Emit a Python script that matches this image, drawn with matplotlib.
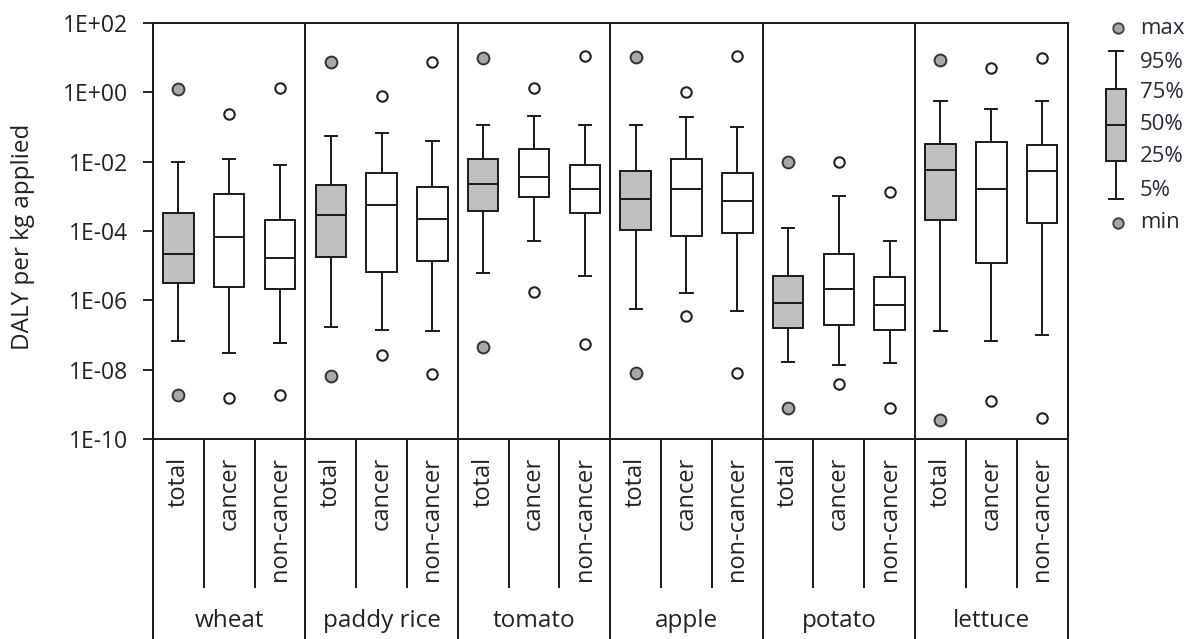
import matplotlib
matplotlib.use('Agg')
import matplotlib.pyplot as plt
import numpy as np
from matplotlib.transforms import blended_transform_factory
from matplotlib.ticker import FixedLocator, NullLocator

plt.rcParams['font.family'] = ['Open Sans', 'DejaVu Sans']

# ---------------- data ----------------
crops = ['wheat', 'paddy rice', 'tomato', 'apple', 'potato', 'lettuce']
effects = ['total', 'cancer', 'non-cancer']

# order: wheat(total, cancer, non-cancer), paddy rice(...), tomato, apple, potato, lettuce
p_max = [1.2, 0.23, 1.3,
         7.4, 0.76, 7.4,
         9.6, 1.3, 11.0,
         10.2, 1.0, 11.0,
         1.0e-2, 9.5e-3, 1.3e-3,
         8.4, 4.9, 9.6]
p95 = [1.0e-2, 1.15e-2, 7.9e-3,
       5.6e-2, 6.6e-2, 3.8e-2,
       0.11, 0.21, 0.11,
       0.11, 0.19, 9.8e-2,
       1.26e-4, 1.05e-3, 5.1e-5,
       0.55, 0.33, 0.55]
p75 = [3.3e-4, 1.2e-3, 2.1e-4,
       2.1e-3, 4.6e-3, 1.8e-3,
       1.15e-2, 2.3e-2, 7.9e-3,
       5.2e-3, 1.15e-2, 4.7e-3,
       5.2e-6, 2.2e-5, 4.6e-6,
       3.3e-2, 3.7e-2, 2.95e-2]
p50 = [2.2e-5, 6.5e-5, 1.7e-5,
       2.9e-4, 5.6e-4, 2.2e-4,
       2.2e-3, 3.5e-3, 1.6e-3,
       8.3e-4, 1.6e-3, 7.2e-4,
       8.3e-7, 2.1e-6, 7.2e-7,
       5.9e-3, 1.6e-3, 5.4e-3]
p25 = [3.1e-6, 2.4e-6, 2.1e-6,
       1.8e-5, 6.8e-6, 1.35e-5,
       3.7e-4, 9.3e-4, 3.3e-4,
       1.1e-4, 7.4e-5, 8.7e-5,
       1.6e-7, 1.95e-7, 1.45e-7,
       2.1e-4, 1.2e-5, 1.7e-4]
p5 = [6.6e-8, 3.0e-8, 5.9e-8,
      1.7e-7, 1.45e-7, 1.3e-7,
      6.0e-6, 5.1e-5, 5.2e-6,
      5.5e-7, 1.6e-6, 4.8e-7,
      1.7e-8, 1.35e-8, 1.55e-8,
      1.3e-7, 6.6e-8, 9.8e-8]
p_min = [1.9e-9, 1.5e-9, 1.9e-9,
         6.8e-9, 2.75e-8, 7.4e-9,
         4.7e-8, 1.7e-6, 5.4e-8,
         8.3e-9, 3.5e-7, 8.3e-9,
         7.8e-10, 3.8e-9, 7.8e-10,
         3.7e-10, 1.3e-9, 4.0e-10]

ytick_values = [1e2, 1e0, 1e-2, 1e-4, 1e-6, 1e-8, 1e-10]
ytick_labels = ['1E+02', '1E+00', '1E-02', '1E-04', '1E-06', '1E-08', '1E-10']
y_label = 'DALY per kg applied'
legend_labels = ['max', '95%', '75%', '50%', '25%', '5%', 'min']

# ---------------- style ----------------
W, H = 1193, 639
GRAY = '#BFBFBF'
DOT_GRAY = '#A8A8A8'
LC = '#1a1a1a'
TC = '#222222'
LW = 1.4

fig = plt.figure(figsize=(W / 100, H / 100), dpi=100)
ax = fig.add_axes([153 / W, 1 - 439.3 / H, (1067.5 - 153) / W, (439.3 - 22.7) / H])

n = len(crops) * len(effects)
pos = np.arange(n)
stats = []
for i in range(n):
    stats.append(dict(med=p50[i], q1=p25[i], q3=p75[i], whislo=p5[i], whishi=p95[i], fliers=[]))

bp = ax.bxp(stats, positions=pos, widths=0.6, patch_artist=True, showfliers=False,
            capwidths=0.24,
            boxprops=dict(edgecolor=LC, linewidth=LW),
            whiskerprops=dict(color=LC, linewidth=LW),
            capprops=dict(color=LC, linewidth=LW),
            medianprops=dict(color=LC, linewidth=LW))
for i, patch in enumerate(bp['boxes']):
    patch.set_facecolor(GRAY if i % 3 == 0 else 'white')

for i in range(n):
    if i % 3 == 0:
        kw = dict(marker='o', ms=8.5, mfc=DOT_GRAY, mec='#333333', mew=1.4, ls='none')
    else:
        kw = dict(marker='o', ms=7.5, mfc='white', mec='#222222', mew=1.5, ls='none')
    ax.plot([pos[i]], [p_max[i]], **kw)
    ax.plot([pos[i]], [p_min[i]], **kw)

ax.set_yscale('log')
ax.set_ylim(1e-10, 1e2)
ax.set_xlim(-0.5, n - 0.5)
ax.yaxis.set_major_locator(FixedLocator(ytick_values))
ax.yaxis.set_minor_locator(NullLocator())
ax.set_yticklabels(ytick_labels)
ax.set_xticks([])
ax.tick_params(axis='y', length=7.2, width=LW, pad=11, labelsize=16.5, colors=TC)
for s in ax.spines.values():
    s.set_linewidth(LW)
    s.set_color(LC)

trans = blended_transform_factory(ax.transData, ax.transAxes)
fig_bottom = -(H - 439.3) / (439.3 - 22.7)
sub_bottom = -(587 - 439.3) / (439.3 - 22.7)

# group dividers (through the plot and down to the figure bottom)
for g in range(len(crops) + 1):
    xb = g * 3 - 0.5
    ax.plot([xb, xb], [1, fig_bottom], color=LC, lw=LW, transform=trans, clip_on=False)
# sub-category separators below the axis
for g in range(len(crops)):
    for k in (1, 2):
        xb = g * 3 + k - 0.5
        ax.plot([xb, xb], [0, sub_bottom], color=LC, lw=LW, transform=trans, clip_on=False)

# labels
for i in range(n):
    ax.text(pos[i], -(457 - 439.3) / 416.6, effects[i % 3], rotation=90, ha='center', va='top',
            fontsize=17, color=TC, transform=trans)
for g, c in enumerate(crops):
    ax.text(g * 3 + 1, -(621 - 439.3) / 416.6, c, ha='center', va='center',
            fontsize=17.5, color=TC, transform=trans)

fig.text(23 / W, 1 - 237 / H, y_label, rotation=90, ha='center', va='center',
         fontsize=17.5, color=TC)

# ---------------- legend key ----------------
lax = fig.add_axes([1095 / W, 1 - 240 / H, 40 / W, 240 / H])
lax.set_xlim(1095, 1135)
lax.set_ylim(240, 0)
lax.axis('off')
lb = lax.bxp([dict(med=125, q1=161.3, q3=89.3, whislo=199, whishi=51, fliers=[])],
             positions=[1116], widths=20, patch_artist=True, showfliers=False, capwidths=14,
             boxprops=dict(edgecolor=LC, linewidth=LW, facecolor=GRAY),
             whiskerprops=dict(color=LC, linewidth=LW),
             capprops=dict(color=LC, linewidth=LW),
             medianprops=dict(color=LC, linewidth=LW))
lax.plot([1117.5, 1117.5], [28.3, 222.7], marker='o', ls='none', ms=7.5, mfc=DOT_GRAY,
         mec='#444444', mew=1.4, clip_on=False)
label_y = [28, 62, 93, 125, 157, 190, 222]
for t, yy in zip(legend_labels, label_y):
    fig.text(1140 / W, 1 - yy / H, t, ha='left', va='center', fontsize=16, color='#2a2a3a')

fig.savefig('out.png', dpi=100)
